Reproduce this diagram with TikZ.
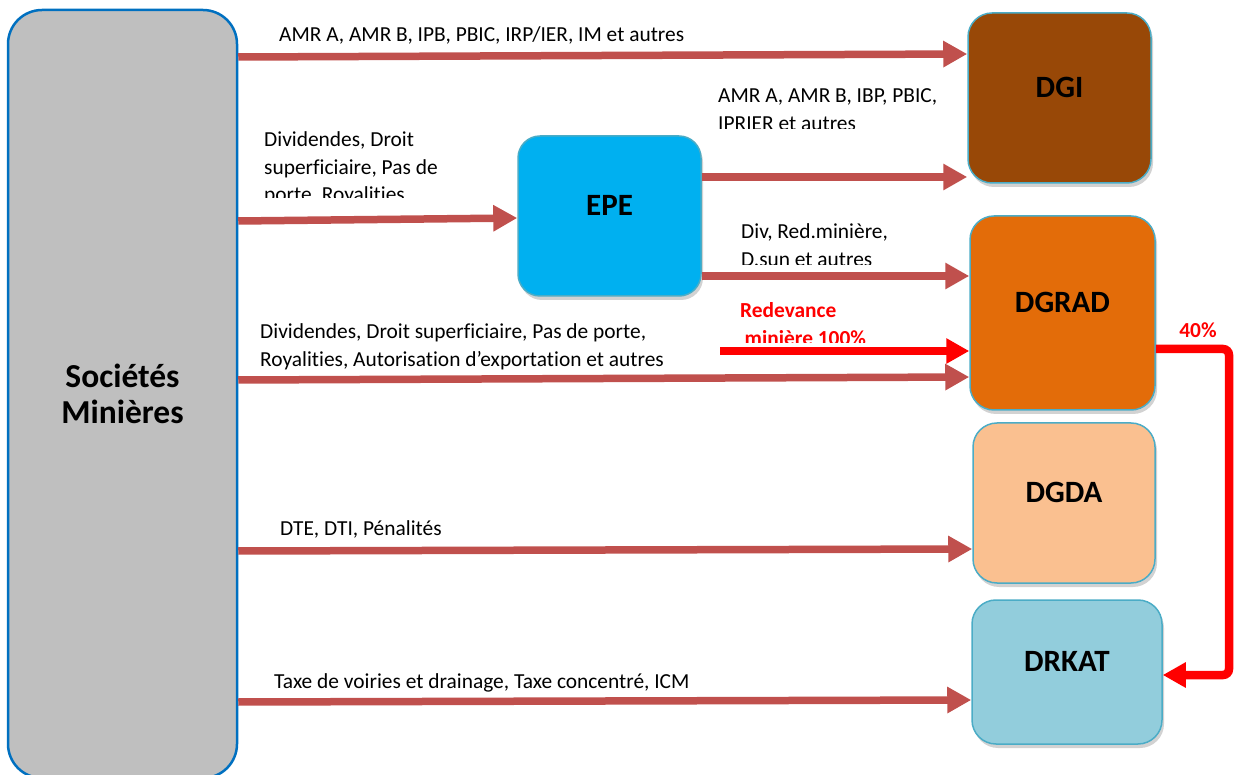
\documentclass[tikz,border=0pt]{standalone}
\usepackage{fontspec}
\setmainfont[Ligatures=NoCommon]{Carlito}
\usetikzlibrary{arrows.meta,shadows}
\definecolor{flowred}{HTML}{C0504D}
\definecolor{socfill}{HTML}{BFBFBF}
\definecolor{socline}{HTML}{0070C0}
\definecolor{boxline}{HTML}{4BACC6}
\definecolor{dgifill}{HTML}{984807}
\definecolor{epefill}{HTML}{00B0F0}
\definecolor{dgradfill}{HTML}{E36C09}
\definecolor{dgdafill}{HTML}{FAC090}
\definecolor{drkatfill}{HTML}{92CDDC}
\newcommand{\mlines}[1]{\begin{tabular}[t]{@{}l@{}}#1\end{tabular}}
\newcommand{\boxlabel}[1]{\raisebox{0.5pt}[0pt][0pt]{#1}}
\begin{document}
\begin{tikzpicture}[x=1pt,y=-1pt,
  box/.style={rectangle, rounded corners=24pt, draw=boxline, line width=1.5pt,
    inner sep=0pt, font=\fontsize{31}{37}\selectfont\bfseries,
    drop shadow={shadow xshift=2pt,shadow yshift=-4pt,opacity=0.25,fill=black!70}},
  flow/.style={draw=flowred, line width=7.5pt, -{Triangle[width=25pt,length=24pt]}},
  redflow/.style={draw=red, line width=8.5pt, -{Triangle[width=24pt,length=23pt]}},
  lbl/.style={inner sep=0pt, anchor=base west, font=\fontsize{21.4}{27.5}\selectfont},
  redlbl/.style={lbl, text=red, font=\fontsize{21.4}{27.5}\selectfont\bfseries},
]
\useasboundingbox (0,0) rectangle (1235,775);

% boxes
\node[rectangle, rounded corners=34pt, draw=socline, fill=socfill, line width=2.5pt,
  minimum width=229pt, minimum height=768pt, inner sep=0pt, align=center,
  font=\fontsize{33.5}{36}\selectfont\bfseries] (soc) at (122.5,394) {Sociétés\\Minières};
\node[box, fill=dgifill, minimum width=183pt, minimum height=170pt] (dgi) at (1059.5,98) {\boxlabel{DGI}};
\node[box, fill=epefill, minimum width=183pt, minimum height=160pt, rounded corners=22pt] (epe) at (609.5,216) {\boxlabel{EPE}};
\node[box, fill=dgradfill, minimum width=185pt, minimum height=194pt] (dgrad) at (1062.5,313) {\boxlabel{DGRAD}};
\node[box, fill=dgdafill, minimum width=182pt, minimum height=160pt] (dgda) at (1064,503) {\boxlabel{DGDA}};
\node[box, fill=drkatfill, minimum width=190pt, minimum height=144pt] (drkat) at (1067,672) {\boxlabel{DRKAT}};

% connectors
\draw[flow] (soc.east |- 0,57) -- (dgi.west |- 0,54);
\draw[flow] (soc.east |- 0,221) -- (epe.west |- 0,218);
\draw[flow] (epe.east |- 0,177) -- (dgi.west |- 0,177);
\draw[flow] (epe.east |- 0,276) -- (dgrad.west |- 0,276);
\coordinate (redstart) at (720,351);
\draw[redflow] (redstart) -- (dgrad.west |- 0,351);
\draw[flow] (soc.east |- 0,380) -- (dgrad.west |- 0,377);
\draw[flow] (soc.east |- 0,551) -- (dgda.west |- 0,549);
\draw[flow] (soc.east |- 0,702) -- (drkat.west |- 0,700);
\draw[redflow, rounded corners=6pt] (dgrad.east |- 0,349) -- (1229,349) -- (1229,675) -- (drkat.east |- 0,675);

% labels
\node[lbl] (l1) at (279,42) {AMR A, AMR B, IPB, PBIC, IRP/IER, IM et autres};
\begin{scope}
  \clip (250,110) rectangle (510,198);
  \node[lbl] (l2) at (264,147) {\mlines{Dividendes, Droit\\superficiaire, Pas de\\porte, Royalities,}};
\end{scope}
\begin{scope}
  \clip (705,70) rectangle (965,129);
  \node[lbl] (l3) at (718,103) {\mlines{AMR A, AMR B, IBP, PBIC,\\IPRIER et autres}};
\end{scope}
\begin{scope}
  \clip (725,210) rectangle (965,265);
  \node[lbl] (l4) at (741,239) {\mlines{Div, Red.minière,\\D.sun et autres}};
\end{scope}
\begin{scope}
  \clip (725,290) rectangle (965,343);
  \node[redlbl] (l5) at (740,318) {\mlines{Redevance\\\hspace{4.5pt}minière 100\%}};
\end{scope}
\node[lbl] (l6) at (260,339) {\mlines{Dividendes, Droit superficiaire, Pas de porte,\\Royalities, Autorisation d’exportation et autres}};
\node[lbl] (l7) at (280,535) {DTE, DTI, Pénalités};
\node[lbl] (l8) at (274,688) {Taxe de voiries et drainage, Taxe concentré, ICM};
\node[redlbl, anchor=base] (l9) at (1198,338) {40\%};
\end{tikzpicture}
\end{document}
